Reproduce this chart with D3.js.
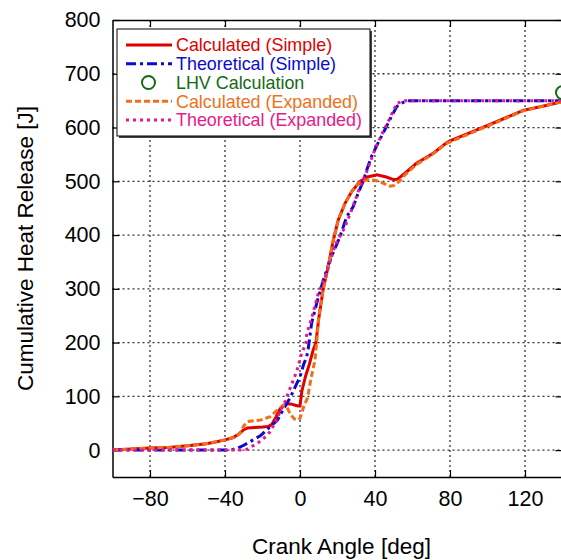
<!DOCTYPE html>
<html>
<head>
<meta charset="utf-8">
<script src="https://cdn.jsdelivr.net/npm/d3@7"></script>
<style>
  body { margin: 0; background: #fff; }
  svg { display: block; font-family: "Liberation Sans", Arial, sans-serif; }
</style>
</head>
<body>
<script>
const width = 561
const height = 560

// Calculated (Simple)
const calcSimpleCA = [-100, -90, -80, -70, -60, -50, -45, -40, -36, -33, -31, -30, -28, -24, -20, -17, -15, -13, -11, -9, -7, -5, -3, -1, 0, 1, 3, 5, 7, 8.5, 10, 12.4, 15, 17.8, 20.4, 24, 27.6, 32, 36, 41, 46, 50, 52, 56, 62, 71, 78, 80, 94, 107, 119, 130, 140]
const calcSimpleJ = [0, 2, 4, 5, 8, 12, 15, 19, 23, 29, 35, 38, 41, 42, 43, 44, 48, 60, 75, 83, 86, 86, 84, 82, 82, 110, 138, 160, 186, 200, 245, 300, 341, 391, 428, 459, 481, 500, 508, 512, 508, 503, 504, 515, 533, 552, 571, 575, 595, 614, 632, 640, 648]

// Theoretical (Simple)
const theoSimpleCA = [-100, -60, -40, -36, -33, -30, -27, -25, -21, -18, -15, -12, -9, -5, -2, 0, 2, 3.6, 4.4, 6.2, 8.9, 12.4, 16, 21.3, 24.9, 28.4, 31, 33.6, 35.6, 38, 41.6, 46, 49, 51.6, 54, 57, 140]
const theoSimpleJ = [0, 0, 0, 1, 4, 9, 15, 19, 27, 37, 46, 56, 75, 99, 122, 136, 160, 174, 189, 236, 273, 316, 353, 397, 434, 453, 478, 499, 521, 545, 571, 601, 622, 639, 645, 650, 650]

// LHV Calculation
const lhvCA = [140]
const lhvJ = [665]

// Calculated (Expanded)
const calcExpCA = [-100, -90, -80, -70, -60, -50, -40, -35, -32, -30, -28, -24, -21, -16, -12, -9, -7, -5, -3, -1, 0, 2, 4, 6, 8, 9, 10, 12.4, 15, 17.8, 20.4, 24, 27.6, 32, 36, 40, 44, 48, 50, 53, 56, 62, 71, 78, 94, 107, 119, 130, 140]
const calcExpJ = [0, 2, 4, 5, 8, 12, 19, 24, 31, 45, 53, 55, 56, 62, 75, 83, 80, 66, 58, 56, 59, 81, 97, 136, 167, 205, 248, 300, 341, 391, 428, 459, 481, 498, 503, 502, 497, 491, 492, 500, 512, 531, 551, 570, 594, 613, 631, 640, 648]

// Theoretical (Expanded)
const theoExpCA = [-100, -40, -31, -28, -26.7, -24, -21, -18, -16, -14, -12, -10.7, -8, -5.3, -1.8, 0.9, 3.2, 3.6, 5.3, 7.1, 9.8, 14.2, 18.7, 24, 27.6, 32, 35.6, 40, 44, 48, 51.6, 56, 140]
const theoExpJ = [0, 0, 0, 2, 5, 10, 17, 26, 34, 46, 60, 71, 90, 115, 146, 180, 199, 217, 235, 257, 292, 329, 381, 415, 447, 490, 518, 560, 590, 618, 645, 650, 650]

const xTicks = [-80, -40, 0, 40, 80, 120]
const yTicks = [0, 100, 200, 300, 400, 500, 600, 700, 800]

const plotL = 112.5, plotR = 562.5, plotT = 20, plotB = 477

const x = d3.scaleLinear().domain([-100, 140]).range([plotL, plotR])
const y = d3.scaleLinear().domain([-50, 800]).range([plotB, plotT])

const svg = d3.select("body").append("svg")
    .attr("width", width)
    .attr("height", height)
    .attr("viewBox", [0, 0, width, height])

svg.append("defs").append("clipPath").attr("id", "plot")
    .append("rect")
    .attr("x", plotL).attr("y", plotT)
    .attr("width", plotR - plotL).attr("height", plotB - plotT)

// grid
const grid = svg.append("g")
    .attr("stroke", "#333")
    .attr("stroke-width", 1.3)
    .attr("stroke-dasharray", "2,3")
grid.selectAll("line.gx").data(xTicks).join("line")
    .attr("class", "gx")
    .attr("x1", (d) => x(d)).attr("x2", (d) => x(d))
    .attr("y1", plotT).attr("y2", plotB)
grid.selectAll("line.gy").data(yTicks.filter((d) => d < 800)).join("line")
    .attr("class", "gy")
    .attr("x1", plotL).attr("x2", plotR)
    .attr("y1", (d) => y(d)).attr("y2", (d) => y(d))

// axes with inward ticks, box on
const fontSize = 21.5
const axB = svg.append("g").attr("transform", `translate(0,${plotB})`)
    .call(d3.axisBottom(x).tickValues(xTicks).tickSizeInner(-7).tickSizeOuter(0).tickPadding(14))
const axT = svg.append("g").attr("transform", `translate(0,${plotT})`)
    .call(d3.axisTop(x).tickValues(xTicks).tickSizeInner(-7).tickSizeOuter(0).tickFormat(""))
const axL = svg.append("g").attr("transform", `translate(${plotL},0)`)
    .call(d3.axisLeft(y).tickValues(yTicks).tickSizeInner(-7).tickSizeOuter(0).tickPadding(12))
const axR = svg.append("g").attr("transform", `translate(${plotR},0)`)
    .call(d3.axisRight(y).tickValues(yTicks).tickSizeInner(-7).tickSizeOuter(0).tickFormat(""))

for (const ax of [axB, axT, axL, axR]) {
    ax.select(".domain").attr("stroke", "#000").attr("stroke-width", 1.5)
    ax.selectAll(".tick line").attr("stroke", "#000").attr("stroke-width", 1.2)
    ax.selectAll(".tick text")
        .attr("fill", "#000")
        .style("font-family", "Liberation Sans, Arial, sans-serif")
        .style("font-size", fontSize + "px")
}

// series lines
const plot = svg.append("g").attr("clip-path", "url(#plot)")
const line = d3.line().x((d) => x(d[0])).y((d) => y(d[1]))
const zip = (a, b) => a.map((v, i) => [v, b[i]])

const series = [
    { name: "Calculated (Simple)", color: "#e00000", dash: null, pts: zip(calcSimpleCA, calcSimpleJ) },
    { name: "Theoretical (Simple)", color: "#0a0ad2", dash: "10,4,3,4", pts: zip(theoSimpleCA, theoSimpleJ) },
    { name: "LHV Calculation", color: "#136b13", marker: true, pts: zip(lhvCA, lhvJ) },
    { name: "Calculated (Expanded)", color: "#f0701a", dash: "6,3", pts: zip(calcExpCA, calcExpJ) },
    { name: "Theoretical (Expanded)", color: "#e8198c", dash: "3,4", pts: zip(theoExpCA, theoExpJ) },
]

series.forEach((s) => {
    if (s.marker) {
        svg.append("g").selectAll("circle").data(s.pts).join("circle")
            .attr("cx", (d) => x(d[0])).attr("cy", (d) => y(d[1]))
            .attr("r", 6.5)
            .attr("fill", "none")
            .attr("stroke", s.color)
            .attr("stroke-width", 2)
    } else {
        plot.append("path")
            .datum(s.pts)
            .attr("d", line)
            .attr("fill", "none")
            .attr("stroke", s.color)
            .attr("stroke-width", 3)
            .attr("stroke-dasharray", s.dash)
    }
})

// legend
const lg = svg.append("g")
const lx = 117, ly = 29, lw = 253, lh = 107
lg.append("rect").attr("x", lx + 2).attr("y", ly + 2).attr("width", lw).attr("height", lh).attr("fill", "#444")
lg.append("rect").attr("x", lx).attr("y", ly).attr("width", lw).attr("height", lh)
    .attr("fill", "#fff").attr("stroke", "#000").attr("stroke-width", 1)

const row = lg.selectAll("g.row").data(series).join("g")
    .attr("transform", (d, i) => `translate(0,${45 + i * 18.75})`)
row.each(function (s) {
    const g = d3.select(this)
    if (s.marker) {
        g.append("circle").attr("cx", 148.5).attr("cy", 0).attr("r", 6.5)
            .attr("fill", "none").attr("stroke", s.color).attr("stroke-width", 2)
    } else {
        g.append("line").attr("x1", 126).attr("x2", 172).attr("y1", 0).attr("y2", 0)
            .attr("stroke", s.color).attr("stroke-width", 3)
            .attr("stroke-dasharray", s.dash)
    }
    g.append("text").attr("x", 176).attr("dy", "0.35em")
        .attr("fill", s.color)
        .style("font-size", "17.9px")
        .text(s.name)
})

// axis titles
svg.append("text")
    .attr("x", (plotL + plotR) / 2 + 4)
    .attr("y", 554)
    .attr("text-anchor", "middle")
    .style("font-size", "22.5px")
    .text("Crank Angle [deg]")

svg.append("text")
    .attr("transform", `translate(33,${(plotT + plotB) / 2}) rotate(-90)`)
    .attr("text-anchor", "middle")
    .style("font-size", "22.5px")
    .text("Cumulative Heat Release [J]")
</script>
</body>
</html>
